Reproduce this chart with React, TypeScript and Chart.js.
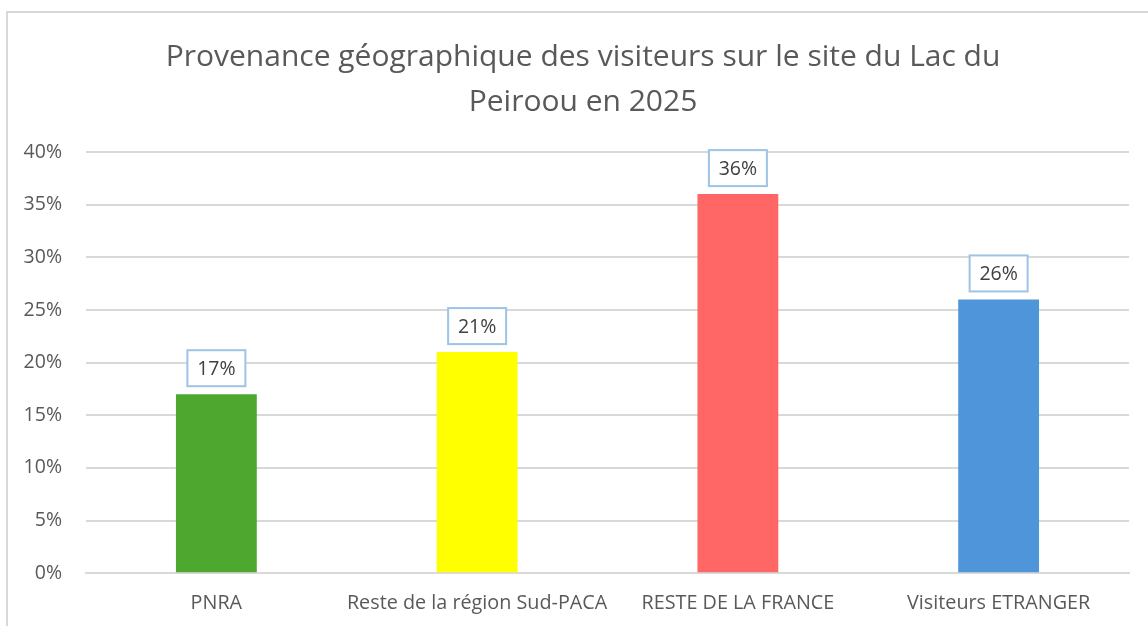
import React, { useEffect, useRef } from "react";
import { Chart, registerables } from "chart.js";

Chart.register(...registerables);

const categories = ["PNRA", "Reste de la région Sud-PACA", "RESTE DE LA FRANCE", "Visiteurs ETRANGER"];
const shares = [0.17, 0.21, 0.36, 0.26];
const barColors = ["#4EA72E", "#FFFF00", "#FF6666", "#4E95D9"];
const titleLines = ["Provenance géographique des visiteurs sur le site du Lac du", "Peiroou en 2025"];

const FONT = "'Open Sans', 'Liberation Sans', sans-serif";

const titlePlugin = {
  id: "centeredTitle",
  afterDraw(chart: any) {
    const ctx = chart.ctx;
    ctx.save();
    ctx.font = `30px ${FONT}`;
    ctx.fillStyle = "#595959";
    ctx.textAlign = "center";
    ctx.textBaseline = "middle";
    titleLines.forEach((line, i) => {
      ctx.fillText(line, 575, 44.5 + i * 45);
    });
    ctx.restore();
  },
};

const labelPlugin = {
  id: "boxedLabels",
  afterDatasetsDraw(chart: any) {
    const ctx = chart.ctx;
    const meta = chart.getDatasetMeta(0);
    const data = chart.data.datasets[0].data as number[];
    ctx.save();
    ctx.font = `19.5px ${FONT}`;
    ctx.textAlign = "center";
    ctx.textBaseline = "middle";
    meta.data.forEach((bar: any, i: number) => {
      const text = Math.round(data[i] * 100) + "%";
      const w = 58;
      const h = 36;
      const x = bar.x - w / 2;
      const y = bar.y - 8 - h;
      ctx.fillStyle = "#ffffff";
      ctx.fillRect(x, y, w, h);
      ctx.strokeStyle = "#9DC3E6";
      ctx.lineWidth = 2;
      ctx.strokeRect(x, y, w, h);
      ctx.fillStyle = "#404040";
      ctx.fillText(text, bar.x, y + h / 2 + 1);
    });
    ctx.restore();
  },
};

export default function App() {
  const ref = useRef<HTMLCanvasElement | null>(null);
  useEffect(() => {
    if (!ref.current) return;
    const chart = new Chart(ref.current, {
      type: "bar",
      data: {
        labels: categories,
        datasets: [
          {
            data: shares,
            backgroundColor: barColors,
            borderWidth: 0,
            categoryPercentage: 1,
            barPercentage: 0.31,
          },
        ],
      },
      options: {
        animation: false,
        responsive: false,
        maintainAspectRatio: false,
        layout: { padding: { left: 0, right: 29, top: 139, bottom: 12 } },
        plugins: {
          legend: { display: false },
          tooltip: { enabled: false },
          title: { display: false },
        },
        scales: {
          x: {
            grid: { display: false, drawTicks: false },
            border: { display: true, color: "#D9D9D9", width: 2 },
            ticks: {
              color: "#595959",
              font: { family: FONT, size: 19.8 },
              padding: 18,
              maxRotation: 0,
              minRotation: 0,
              autoSkip: false,
            },
          },
          y: {
            min: 0,
            max: 0.4,
            grid: { color: "#D9D9D9", lineWidth: 2, drawTicks: false },
            border: { display: false },
            ticks: {
              stepSize: 0.05,
              color: "#595959",
              font: { family: FONT, size: 19.5 },
              padding: 24,
              callback: (v: any) => Math.round(Number(v) * 100) + "%",
            },
            afterFit: (scale: any) => {
              scale.width = 78;
            },
          },
        },
      },
      plugins: [labelPlugin, titlePlugin],
    });
    return () => chart.destroy();
  }, []);

  return (
    <div style={{ position: "fixed", inset: 0, overflow: "hidden", background: "#fff" }}>
      <div
        style={{
          position: "absolute",
          left: 6,
          top: 11,
          width: 1150,
          height: 660,
          border: "2px solid #D9D9D9",
        }}
      >
        <canvas ref={ref} width={1150} height={632} style={{ display: "block" }} />
      </div>
    </div>
  );
}
